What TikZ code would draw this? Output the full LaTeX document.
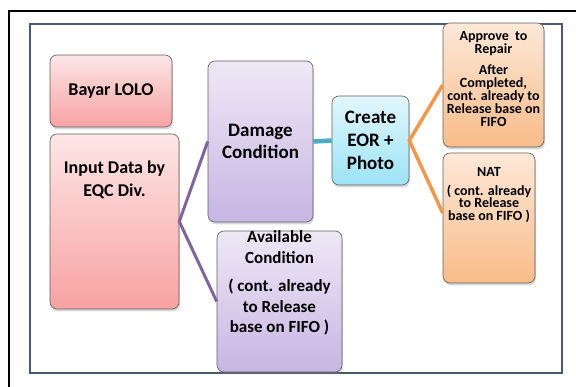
\documentclass[tikz,border=0pt]{standalone}
\usepackage{fontspec}
\setmainfont{Carlito}
\usepackage{tikz}
\usetikzlibrary{positioning,shadows}

\definecolor{pinktop}{HTML}{FDE6E6}
\definecolor{pinkbot}{HTML}{F8A2A2}
\definecolor{lilactop}{HTML}{EEE8F6}
\definecolor{lilacbot}{HTML}{C8B5E3}
\definecolor{skytop}{HTML}{E2F7FD}
\definecolor{skybot}{HTML}{9CE3F6}
\definecolor{peachtop}{HTML}{FDE8D8}
\definecolor{peachbot}{HTML}{F8BC88}
\definecolor{framecol}{HTML}{4A5A72}
\definecolor{purpleline}{HTML}{8064A2}
\definecolor{cyanline}{HTML}{4BACC6}
\definecolor{orangeline}{HTML}{F79646}

\newcommand{\boxfont}[2]{\bfseries\fontsize{#1}{#2}\selectfont}

\tikzset{
	box/.style={draw=gray!75!black, line width=0.6pt, rounded corners=7pt,
		drop shadow={opacity=0.3, shadow xshift=1pt, shadow yshift=-2.5pt},
		inner sep=0pt, align=center},
	pinkbox/.style={box, top color=pinktop, bottom color=pinkbot},
	lilacbox/.style={box, top color=lilactop, bottom color=lilacbot},
	skybox/.style={box, top color=skytop, bottom color=skybot},
	peachbox/.style={box, top color=peachtop, bottom color=peachbot},
	boxtext/.style={inner sep=0pt, align=center}
}

\begin{document}
\begin{tikzpicture}[x=1pt, y=-1pt]
		\useasboundingbox (0,0) rectangle (576,387);
		% frames
		\draw[black, line width=2.5pt] (9,387) -- (9,11) -- (576,11);
		\draw[framecol, line width=1.8pt] (30,24) rectangle (562,373);
		% left column
		\node[pinkbox, font=\boxfont{18}{22}, minimum width=122pt, minimum height=72pt] (bayar) at (111,91) {Bayar LOLO};
		\node[pinkbox, minimum width=129pt, minimum height=175pt] (input) at (114.5,221.5) {};
		\node[boxtext, font=\boxfont{18}{23}, below=27pt of input.north] (inputtext) {Input Data by\\EQC Div.};
		% middle column
		\node[lilacbox, font=\boxfont{19}{22}, minimum width=105pt, minimum height=161pt] (damage) at (260.5,141.5) {Damage\\Condition};
		\node[lilacbox, minimum width=125pt, minimum height=141pt] (avail) at (279.5,301.5) {};
		\node[boxtext, font=\boxfont{17}{20.5}, below=0pt of avail.north] (availtext) {Available\\Condition\\[8pt]( cont. already\\to Release\\base on FIFO )};
		\node[skybox, font=\boxfont{19}{23}, minimum width=77pt, minimum height=89pt] (create) at (370.5,140.5) {Create\\EOR +\\Photo};
		% right column
		\node[peachbox, minimum width=101pt, minimum height=124pt] (approve) at (493.5,85) {};
		\node[boxtext, font=\boxfont{14}{13}, below=9pt of approve.north] (approvetext) {Approve \ to\\Repair\\[8pt]After\\Completed,\\cont. already to\\Release base on\\FIFO};
		\node[peachbox, minimum width=92pt, minimum height=130pt] (nat) at (489,218) {};
		\node[boxtext, font=\boxfont{14}{12.5}, below=15pt of nat.north] (nattext) {NAT\\[6pt]( cont. already\\to Release\\base on FIFO )};
		% connectors
		\draw[purpleline, line width=3pt] (damage.west) -- (input.east) -- (avail.west);
		\draw[cyanline, line width=4.5pt] (damage.east) -- (create.west);
		\draw[orangeline, line width=3.5pt] (approve.west) -- (create.east) -- ([yshift=5pt]nat.west);
		\end{tikzpicture}
\end{document}
